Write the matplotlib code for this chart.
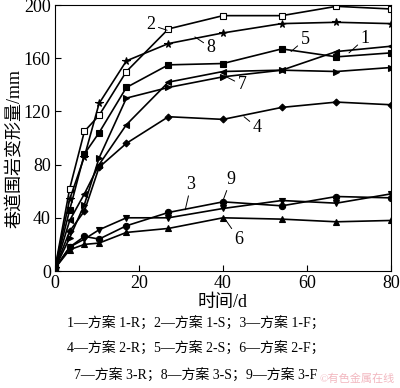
import matplotlib
matplotlib.use("Agg")
import matplotlib.pyplot as plt

plt.rcParams['font.family'] = ['Liberation Serif', 'Noto Sans CJK SC']
plt.rcParams['axes.unicode_minus'] = False

# time (d)
days = [0, 3.5, 7, 10.5, 17, 27, 40, 54, 67, 80]

s1 = [2, 38, 58, 80, 110, 142, 150, 151, 165, 169]
s2 = [2, 62, 105, 117, 150, 182, 192, 192, 199, 197]
s3 = [2, 18, 24, 31, 40, 40, 47, 53, 51, 58]
s4 = [2, 30, 45, 78, 96, 116, 114, 123, 127, 125]
s5 = [2, 46, 88, 104, 138, 155, 156, 167, 161, 164]
s6 = [2, 16, 20, 21, 29, 32, 40, 39, 37, 38]
s7 = [2, 25, 50, 85, 130, 138, 146, 151, 150, 153]
s8 = [2, 54, 86, 126, 158, 171, 179, 186, 187, 186]
s9 = [2, 18, 26, 24, 34, 44, 52, 49, 56, 55]

series = [s1, s2, s3, s4, s5, s6, s7, s8, s9]
markers = ['<', 's', 'v', 'D', 's', '^', '>', '*', 'o']
fills = ['k', 'white', 'k', 'k', 'k', 'k', 'k', 'k', 'k']
sizes = [4.5, 5, 4.5, 3.5, 5, 4.5, 4.5, 5.5, 4.5]

legend_lines = [
    "1—方案 1-R；2—方案 1-S；3—方案 1-F；",
    "4—方案 2-R；5—方案 2-S；6—方案 2-F；",
    "7—方案 3-R；8—方案 3-S；9—方案 3-F",
]

fig = plt.figure(figsize=(4.0, 3.88), dpi=100)
ax = fig.add_axes([55 / 400, 1 - 271 / 388, 336 / 400, 266 / 388])

for ys, m, fc, ms in zip(series, markers, fills, sizes):
    ax.plot(days, ys, color='k', lw=1.2, marker=m, ms=ms,
            markerfacecolor=fc, markeredgecolor='k', markeredgewidth=0.8)

ax.set_xlim(0, 80)
ax.set_ylim(0, 200)
ax.set_xticks([0, 20, 40, 60, 80])
ax.set_yticks([0, 40, 80, 120, 160, 200])
ax.tick_params(direction='in', length=4, width=0.8, labelsize=13, pad=3)
for sp in ax.spines.values():
    sp.set_linewidth(0.8)

ax.set_xlabel('时间/d', fontsize=13, labelpad=1)
ax.set_ylabel('巷道围岩变形量/mm', fontsize=13, labelpad=3)
ax.yaxis.set_label_coords(-0.095, 0.46)

# curve labels: (text, text pos, leader target)
labels = [
    ('2', (22.9, 185), (26.7, 181)),
    ('8', (37.1, 168), (33.3, 176)),
    ('5', (59.5, 174), (56.2, 165)),
    ('1', (73.8, 175), (70, 164)),
    ('7', (44.5, 140), (40.2, 147)),
    ('4', (48.1, 108), (45, 116)),
    ('3', (32.4, 65), (31, 46)),
    ('9', (41.9, 69), (40, 53)),
    ('6', (43.8, 24), (40.5, 39)),
]
for t, tp, ap in labels:
    ax.annotate(t, xy=ap, xytext=tp, fontsize=13, ha='center', va='center',
                arrowprops=dict(arrowstyle='-', lw=0.7, color='k',
                                shrinkA=0, shrinkB=0))

ys_txt = [323, 348, 375]
for line, yp in zip(legend_lines, ys_txt):
    fig.text(196 / 400, 1 - yp / 388, line, fontsize=10, ha='center', va='center')

fig.text(395 / 400, 1 - 379 / 388, '©有色金属在线', fontsize=8, color='#f2b8c0',
         ha='right', va='center')

fig.savefig('out.png', dpi=100)
